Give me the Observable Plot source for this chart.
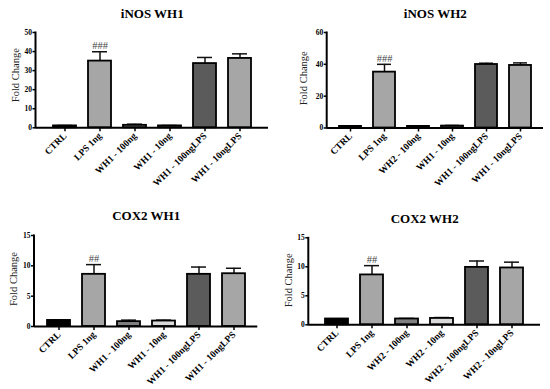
<!DOCTYPE html>
<html>
<head>
<meta charset="utf-8">
<script src="https://cdn.jsdelivr.net/npm/d3@7"></script>
<script src="https://cdn.jsdelivr.net/npm/@observablehq/plot@0.6"></script>
<style>
  html, body { margin: 0; padding: 0; background: #fff; }
  #wrap { position: relative; width: 550px; height: 389px; background: #fff; overflow: hidden; }
  .cell { position: absolute; }
  .cell svg { display: block; }
</style>
</head>
<body>
<div id="wrap">
  <div class="cell" id="p1" style="left:0;top:0"></div>
  <div class="cell" id="p2" style="left:275px;top:0"></div>
  <div class="cell" id="p3" style="left:0;top:195px"></div>
  <div class="cell" id="p4" style="left:275px;top:195px"></div>
</div>
<script>
// ---- data ----
const catsInosWH1 = ["CTRL", "LPS 1ng", "WH1 - 100ng", "WH1 - 10ng", "WH1 - 100ngLPS", "WH1 - 10ngLPS"];
const catsInosWH2 = ["CTRL", "LPS 1ng", "WH2 - 100ng", "WH1 - 10ng", "WH1 - 100ngLPS", "WH1 - 10ngLPS"];
const catsCox2WH1 = ["CTRL", "LPS 1ng", "WH1 - 100ng", "WH1 - 10ng", "WH1 - 100ngLPS", "WH1 - 10ngLPS"];
const catsCox2WH2 = ["CTRL", "LPS 1ng", "WH2 - 100ng", "WH2 - 10ng", "WH2 - 100ngLPS", "WH2 - 10ngLPS"];

const inosWH1Mean = [1.0, 35.0, 1.3, 1.0, 33.7, 36.4];
const inosWH1Err  = [0.2, 4.9, 0.6, 0.2, 3.2, 2.4];
const inosWH2Mean = [1.0, 35.1, 1.0, 1.2, 39.9, 39.3];
const inosWH2Err  = [0.1, 4.9, 0.2, 0.4, 0.8, 1.6];
const cox2WH1Mean = [1.0, 8.6, 0.8, 0.9, 8.6, 8.7];
const cox2WH1Err  = [0.05, 1.6, 0.25, 0.15, 1.2, 0.9];
const cox2WH2Mean = [1.0, 8.6, 1.0, 1.1, 9.9, 9.8];
const cox2WH2Err  = [0.05, 1.6, 0.1, 0.15, 1.1, 1.0];

const inosNotes = ["", "###", "", "", "", ""];
const cox2Notes = ["", "##", "", "", "", ""];

const inosWH1Ticks = [0, 10, 20, 30, 40, 50];
const inosWH2Ticks = [0, 20, 40, 60];
const cox2Ticks = [0, 5, 10, 15];

const titles = ["iNOS WH1", "iNOS WH2", "COX2 WH1", "COX2 WH2"];
const yLabel = "Fold Change";

// ---- drawing ----
const palette = ["#000000", "#a6a6a6", "#808080", "#d9d9d9", "#5b5b5b", "#a6a6a6"];
const serif = "'Liberation Serif', 'Times New Roman', serif";

// vertical axis line at the left edge of the frame
function leftAxisLine(index, scales, values, dim) {
  const x = dim.marginLeft;
  return d3.create("svg:line")
    .attr("x1", x).attr("x2", x)
    .attr("y1", dim.marginTop - 0.5).attr("y2", dim.height - dim.marginBottom + 1)
    .attr("stroke", "black").attr("stroke-width", 2)
    .node();
}

function panel(o) {
  const data = o.cats.map((c, i) => ({cat: c, mean: o.means[i], err: o.errs[i], note: o.notes[i], i}));
  return Plot.plot({
    width: 275,
    height: o.height,
    marginLeft: o.ml, marginRight: o.mr, marginTop: o.mt, marginBottom: o.mb,
    style: {fontFamily: serif, background: "white", color: "black", overflow: "visible"},
    x: {domain: o.cats, paddingInner: 0.35, paddingOuter: o.po},
    y: {domain: [0, o.ticks[o.ticks.length - 1]]},
    marks: [
      Plot.ruleX(data, {x: "cat", y1: "mean", y2: d => d.mean + d.err, stroke: "#111", strokeWidth: 1.5}),
      Plot.tickY(data, {x: "cat", y: d => d.mean + d.err, stroke: "#111", strokeWidth: 1.5, insetLeft: 4, insetRight: 4}),
      Plot.barY(data, {x: "cat", y: "mean", fill: d => palette[d.i], stroke: "black", strokeWidth: 1.8}),
      Plot.text(data, {x: "cat", y: d => d.mean + d.err, text: "note", dy: -6, fontSize: 10.5, fill: "#444"}),
      Plot.axisY({ticks: o.ticks, tickSize: 3, tickPadding: 1, fontSize: 7.5, fontWeight: "bold", label: null, strokeWidth: 1.5}),
      Plot.axisX({tickRotate: -45, tickSize: 4, tickPadding: 2.5, fontSize: 9.5, fontWeight: "bold", label: null, strokeWidth: 1.5}),
      Plot.ruleY([0], {stroke: "black", strokeWidth: 2}),
      leftAxisLine,
      Plot.text([yLabel], {frameAnchor: "left", rotate: -90, dx: -o.lo, dy: o.ld, fontSize: 10.5, textAnchor: "middle", lineAnchor: "middle", fill: "#222"}),
      Plot.text([o.title], {frameAnchor: "top", dy: o.td, fontSize: 13, fontWeight: "bold", textAnchor: "middle", lineAnchor: "middle"})
    ]
  });
}

document.getElementById("p1").append(panel({
  title: titles[0], cats: catsInosWH1, means: inosWH1Mean, errs: inosWH1Err, notes: inosNotes, ticks: inosWH1Ticks,
  height: 195, ml: 35.5, mr: 7, mt: 32, mb: 67.7, po: 0.45, lo: 20, ld: -5, td: -19
}));
document.getElementById("p2").append(panel({
  title: titles[1], cats: catsInosWH2, means: inosWH2Mean, errs: inosWH2Err, notes: inosNotes, ticks: inosWH2Ticks,
  height: 195, ml: 51.7, mr: 7, mt: 32, mb: 67.5, po: 0.28, lo: 23.7, ld: -2, td: -19
}));
document.getElementById("p3").append(panel({
  title: titles[2], cats: catsCox2WH1, means: cox2WH1Mean, errs: cox2WH1Err, notes: cox2Notes, ticks: cox2Ticks,
  height: 194, ml: 34, mr: 17.7, mt: 40, mb: 63, po: 0.36, lo: 20.5, ld: -2, td: -20
}));
document.getElementById("p4").append(panel({
  title: titles[3], cats: catsCox2WH2, means: cox2WH2Mean, errs: cox2WH2Err, notes: cox2Notes, ticks: cox2Ticks,
  height: 194, ml: 33.3, mr: 10, mt: 42.3, mb: 64.7, po: 0.42, lo: 20, ld: -1, td: -19
}));
</script>
</body>
</html>
